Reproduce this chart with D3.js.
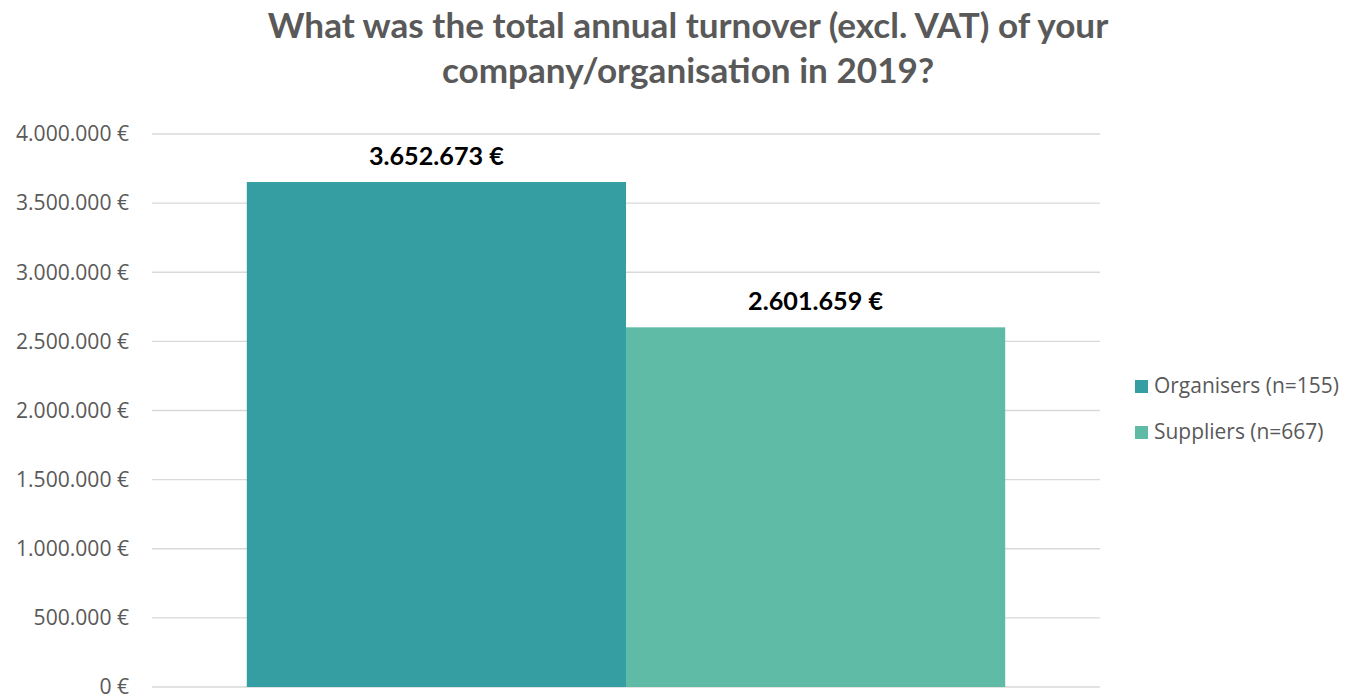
<!DOCTYPE html>
<html>
<head>
<meta charset="utf-8">
<script src="https://cdn.jsdelivr.net/npm/d3@7"></script>
<style>
  body { margin: 0; background: #fff; }
  svg { display: block; }
</style>
</head>
<body>
<div id="chart"></div>
<script>
// chart data
var categories = ["2019"];
var seriesNames = ["Organisers (n=155)", "Suppliers (n=667)"];
var seriesValues = [3652673, 2601659];
var seriesColors = ["#359ea2", "#5fbba6"];
var yTicks = [0, 500000, 1000000, 1500000, 2000000, 2500000, 3000000, 3500000, 4000000];
var titleLines = ["What was the total annual turnover (excl. VAT) of your", "company/organisation in 2019?"];

var svgWidth = 1346;
var svgHeight = 696;

var margin = { top: 134, right: 246, bottom: 9, left: 152 };
var width = svgWidth - margin.left - margin.right;
var height = svgHeight - margin.top - margin.bottom;

var locale = d3.formatLocale({ decimal: ",", thousands: ".", grouping: [3], currency: ["", " €"] });
var fmt = locale.format(",");
function euro(v) { return fmt(v) + " €"; }

// resize a selection of texts so one reference node gets a target width
function fitTo(sel, node, target, base) {
  var s = target / node.getComputedTextLength();
  sel.attr("font-size", (base * s) + "px");
}

var svg = d3.select("#chart").append("svg")
  .attr("width", svgWidth)
  .attr("height", svgHeight);

var chartGroup = svg.append("g")
  .attr("transform", `translate(${margin.left}, ${margin.top})`);

// scales
var x0 = d3.scaleBand().domain(categories).range([0, width]).paddingInner(0).paddingOuter(0.125);
var x1 = d3.scaleBand().domain(seriesNames).range([0, x0.bandwidth()]).padding(0);
var y = d3.scaleLinear().domain([0, 4000000]).range([height, 0]);

// gridlines
chartGroup.selectAll(".grid").data(yTicks).enter()
  .append("line")
  .attr("x1", 0).attr("x2", width)
  .attr("y1", d => y(d)).attr("y2", d => y(d))
  .attr("stroke", "#d9d9d9")
  .attr("stroke-width", 1.3);

// y axis labels
var leftAxis = d3.axisLeft(y).tickValues(yTicks).tickFormat(euro).tickSize(0).tickPadding(23);
var yAxis = chartGroup.append("g").call(leftAxis);
yAxis.select(".domain").remove();
var yLabels = yAxis.selectAll("text")
  .attr("font-family", "'Open Sans', sans-serif")
  .attr("font-size", "18px")
  .attr("fill", "#595959");
fitTo(yLabels, yLabels.nodes()[yLabels.size() - 1], 113, 18);

// bars
var rows = seriesNames.map((s, i) => ({ name: s, value: seriesValues[i], color: seriesColors[i], cat: categories[0] }));

chartGroup.selectAll(".bar").data(rows).enter()
  .append("rect")
  .attr("x", d => x0(d.cat) + x1(d.name))
  .attr("y", d => y(d.value))
  .attr("width", x1.bandwidth())
  .attr("height", d => height - y(d.value))
  .attr("fill", d => d.color);

// data labels
var dataLabels = chartGroup.selectAll(".lbl").data(rows).enter()
  .append("text")
  .attr("x", d => x0(d.cat) + x1(d.name) + x1.bandwidth() / 2)
  .attr("y", d => y(d.value) - 17)
  .attr("text-anchor", "middle")
  .attr("font-family", "Lato, sans-serif")
  .attr("font-weight", "bold")
  .attr("font-size", "23px")
  .attr("fill", "#000")
  .text(d => euro(d.value));
fitTo(dataLabels, dataLabels.node(), 135, 23);

// title
var title = svg.append("g");
titleLines.forEach(function(t, i) {
  title.append("text")
    .attr("x", 688)
    .attr("y", 38 + i * 45)
    .attr("text-anchor", "middle")
    .attr("font-family", "Lato, sans-serif")
    .attr("font-weight", "bold")
    .attr("font-size", "32px")
    .attr("fill", "#595959")
    .text(t);
});
fitTo(title.selectAll("text"), title.select("text").node(), 841, 32);

// legend
var legend = svg.append("g").attr("transform", "translate(1135, 380)");
var items = legend.selectAll(".item").data(rows).enter()
  .append("g")
  .attr("transform", (d, i) => `translate(0, ${i * 46})`);
items.append("rect")
  .attr("width", 13).attr("height", 13)
  .attr("fill", d => d.color);
var legendText = items.append("text")
  .attr("x", 19).attr("y", 13)
  .attr("font-family", "'Open Sans', sans-serif")
  .attr("font-size", "18px")
  .attr("fill", "#595959")
  .text(d => d.name);
fitTo(legendText, legendText.node(), 185, 18);
</script>
</body>
</html>
